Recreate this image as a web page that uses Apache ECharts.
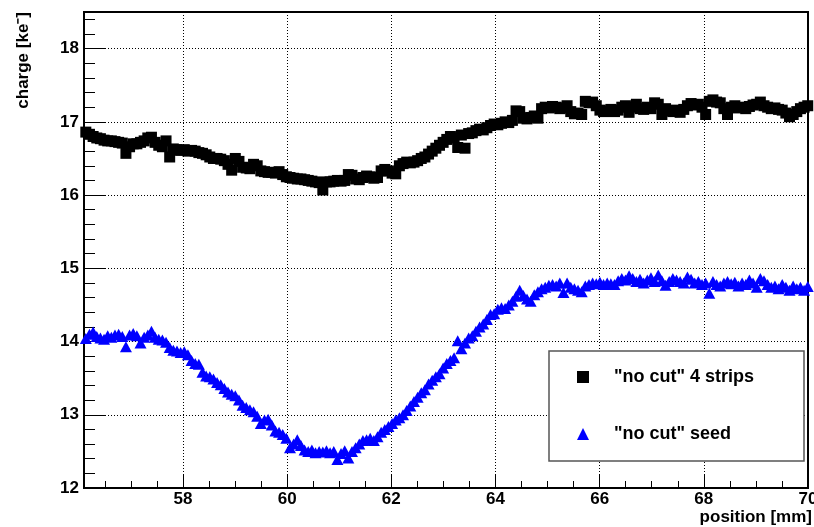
<!DOCTYPE html>
<html><head><meta charset="utf-8">
<script src="https://cdn.jsdelivr.net/npm/echarts@6/dist/echarts.min.js"></script>
<style>html,body{margin:0;padding:0;background:#fff}#c{width:814px;height:527px}</style>
</head><body><div id="c"></div>
<script>
// Bin layout of the histogram (bin centres)
const binStart = 56.135;
const binWidth = 0.07;

// "no cut" 4 strips (charge in ke-)
const strips = [
16.86,16.83,16.80,16.78,16.77,16.75,16.74,16.74,16.73,16.72,
16.71,16.57,16.66,16.70,16.70,16.72,16.74,16.78,16.79,16.72,
16.68,16.66,16.74,16.52,16.63,16.62,16.61,16.62,16.60,16.61,
16.60,16.58,16.57,16.55,16.52,16.50,16.50,16.49,16.47,16.42,
16.34,16.50,16.46,16.38,16.37,16.36,16.42,16.40,16.33,16.32,
16.31,16.31,16.30,16.32,16.28,16.25,16.24,16.23,16.22,16.22,
16.21,16.20,16.19,16.18,16.17,16.07,16.18,16.18,16.19,16.20,
16.19,16.20,16.28,16.27,16.22,16.21,16.24,16.26,16.25,16.23,
16.24,16.33,16.35,16.33,16.30,16.29,16.40,16.43,16.45,16.44,
16.45,16.47,16.50,16.52,16.56,16.60,16.64,16.68,16.72,16.76,
16.80,16.78,16.65,16.82,16.64,16.84,16.85,16.88,16.90,16.89,
16.92,16.95,16.97,16.96,16.98,17.00,16.99,17.02,17.15,17.14,
17.05,17.04,17.06,17.08,17.05,17.18,17.20,17.19,17.21,17.20,
17.18,17.19,17.22,17.14,17.11,17.12,17.10,17.28,17.26,17.27,
17.22,17.16,17.14,17.15,17.17,17.14,17.16,17.20,17.22,17.13,
17.20,17.24,17.18,17.17,17.20,17.18,17.26,17.24,17.10,17.18,
17.15,17.14,17.16,17.13,17.17,17.22,17.25,17.23,17.24,17.20,
17.10,17.28,17.30,17.27,17.26,17.18,17.10,17.20,17.22,17.19,
17.20,17.18,17.21,17.23,17.24,17.27,17.22,17.20,17.18,17.19,
17.17,17.16,17.12,17.07,17.10,17.14,17.18,17.20,17.22,17.21
];

// "no cut" seed (charge in ke-)
const seed = [
14.04,14.10,14.13,14.07,14.05,14.03,14.08,14.06,14.09,14.10,
14.07,13.93,14.09,14.11,14.08,13.98,14.06,14.09,14.14,14.06,
14.03,14.02,13.99,13.92,13.88,13.87,13.85,13.86,13.82,13.74,
13.70,13.69,13.58,13.53,13.52,13.49,13.44,13.41,13.36,13.31,
13.28,13.26,13.20,13.13,13.10,13.07,13.04,12.98,12.88,12.93,
12.94,12.86,12.78,12.76,12.73,12.68,12.55,12.60,12.66,12.58,
12.52,12.50,12.52,12.48,12.50,12.49,12.51,12.48,12.50,12.39,
12.47,12.51,12.41,12.50,12.55,12.60,12.65,12.66,12.68,12.65,
12.70,12.76,12.80,12.84,12.88,12.93,12.96,13.00,13.06,13.12,
13.18,13.24,13.30,13.34,13.42,13.47,13.52,13.56,13.64,13.70,
13.74,13.78,14.01,13.90,13.98,14.05,14.08,14.14,14.20,14.24,
14.30,14.37,14.38,14.44,14.46,14.45,14.50,14.55,14.62,14.70,
14.63,14.58,14.55,14.64,14.68,14.72,14.74,14.77,14.78,14.76,
14.80,14.67,14.80,14.74,14.72,14.70,14.68,14.76,14.78,14.80,
14.79,14.81,14.78,14.80,14.79,14.78,14.83,14.86,14.84,14.90,
14.86,14.82,14.85,14.80,14.84,14.87,14.82,14.91,14.83,14.77,
14.82,14.86,14.84,14.82,14.80,14.88,14.85,14.80,14.82,14.78,
14.80,14.66,14.82,14.78,14.76,14.80,14.82,14.79,14.81,14.76,
14.80,14.78,14.84,14.80,14.74,14.86,14.83,14.78,14.74,14.76,
14.72,14.78,14.74,14.70,14.76,14.72,14.74,14.70,14.75,14.68
];

const seriesNames = ['"no cut" 4 strips', '"no cut" seed'];
const xTickLabels = [58, 60, 62, 64, 66, 68, 70];
const yTickLabels = [12, 13, 14, 15, 16, 17, 18];
const xRange = [56.1, 70.0];
const yRange = [12, 18.5];
const xTitle = 'position [mm]';
const yTitle = 'charge [ke\u207B]';

const FONT = '"Liberation Sans", Arial, Helvetica, sans-serif';

const xMinor = [];
for (let v = 56.5; v <= 70.001; v += 0.5) xMinor.push(Math.round(v * 10) / 10);
const yMinor = [];
for (let v = 12.2; v <= 18.45; v += 0.2) yMinor.push(Math.round(v * 10) / 10);

const toPairs = arr => arr.map((v, i) => [binStart + i * binWidth, v]);

const chart = echarts.init(document.getElementById('c'), null, {renderer: 'canvas'});
const gridLine = {show: true, lineStyle: {color: '#000', width: 1, type: [1, 2]}};

chart.setOption({
  animation: false,
  backgroundColor: '#fff',
  grid: {left: 84, right: 6, top: 12, bottom: 39, show: true, borderColor: '#000', borderWidth: 2,
         backgroundColor: 'transparent', containLabel: false, outerBoundsMode: 'none'},
  xAxis: [{
    type: 'value', min: xRange[0], max: xRange[1], position: 'bottom',
    axisLine: {show: true, onZero: false, lineStyle: {color: '#000', width: 2}},
    axisTick: {show: true, inside: true, length: 14, customValues: xTickLabels, lineStyle: {color: '#000', width: 1}},
    axisLabel: {show: true, customValues: xTickLabels, margin: 3, color: '#000', fontFamily: FONT, fontWeight: 'bold', fontSize: 17, hideOverlap: false},
    splitLine: gridLine
  }, {
    type: 'value', min: xRange[0], max: xRange[1], position: 'bottom', offset: 0,
    axisLine: {show: false},
    axisTick: {show: true, inside: true, length: 7, customValues: xMinor, lineStyle: {color: '#000', width: 1}},
    axisLabel: {show: false},
    splitLine: {show: false}
  }],
  yAxis: [{
    type: 'value', min: yRange[0], max: yRange[1], position: 'left',
    axisLine: {show: true, onZero: false, lineStyle: {color: '#000', width: 2}},
    axisTick: {show: true, inside: true, length: 21, customValues: yTickLabels, lineStyle: {color: '#000', width: 1}},
    axisLabel: {show: true, customValues: yTickLabels, margin: 5, color: '#000', fontFamily: FONT, fontWeight: 'bold', fontSize: 17},
    splitLine: gridLine
  }, {
    type: 'value', min: yRange[0], max: yRange[1], position: 'left', offset: 0,
    axisLine: {show: false},
    axisTick: {show: true, inside: true, length: 11, customValues: yMinor, lineStyle: {color: '#000', width: 1}},
    axisLabel: {show: false},
    splitLine: {show: false}
  }],
  legend: {
    orient: 'vertical', left: 577, top: 367, padding: 0, itemGap: 37,
    itemWidth: 12, itemHeight: 12, selectedMode: false, z: 10,
    textStyle: {color: '#000', fontFamily: FONT, fontWeight: 'bold', fontSize: 18, lineHeight: 20, padding: [0, 0, 0, 20]},
    data: [{name: seriesNames[0], icon: 'rect'}, {name: seriesNames[1], icon: 'triangle'}]
  },
  graphic: [
    {type: 'rect', z: 5, shape: {x: 549, y: 351, width: 255, height: 110},
     style: {fill: '#fff', stroke: '#555', lineWidth: 1.5}},
    {type: 'text', x: 23, y: 12, rotation: Math.PI / 2, z: 10,
     style: {text: yTitle, fill: '#000', font: 'bold 17px ' + FONT, align: 'right', verticalAlign: 'middle', textAlign: 'right', textVerticalAlign: 'middle'}},
    {type: 'text', x: 812, y: 517, z: 10,
     style: {text: xTitle, fill: '#000', font: 'bold 17px ' + FONT, align: 'right', verticalAlign: 'middle', textAlign: 'right', textVerticalAlign: 'middle'}}
  ],
  series: [{
    name: seriesNames[0], type: 'scatter', xAxisIndex: 0, yAxisIndex: 0,
    symbol: 'rect', symbolSize: 11, itemStyle: {color: '#000', opacity: 1},
    data: toPairs(strips), clip: true
  }, {
    name: seriesNames[1], type: 'scatter', xAxisIndex: 0, yAxisIndex: 0,
    symbol: 'triangle', symbolSize: [12, 11], itemStyle: {color: '#0000ff', opacity: 1},
    data: toPairs(seed), clip: true
  }]
});
</script>
</body></html>
